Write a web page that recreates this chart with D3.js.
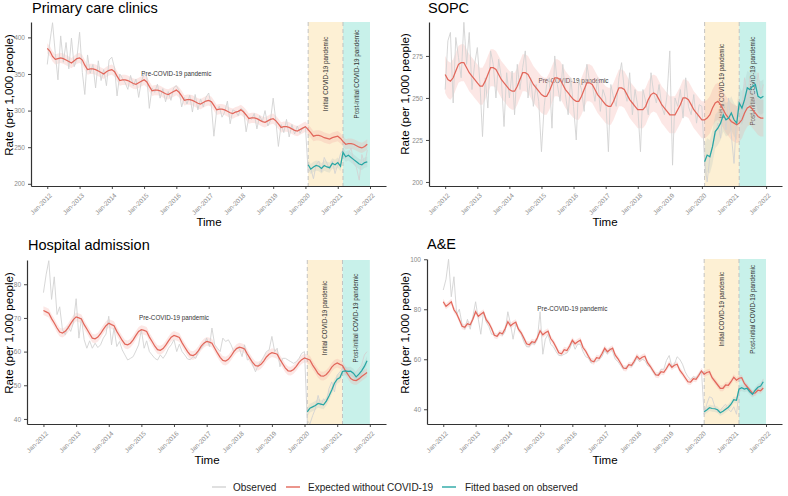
<!DOCTYPE html>
<html>
<head>
<meta charset="utf-8">
<script src="https://cdn.jsdelivr.net/npm/d3@7"></script>
<style>
  body { margin: 0; background: #fff; }
  svg text { font-family: "Liberation Sans", Arial, sans-serif; }
</style>
</head>
<body>
<svg id="chart"></svg>
<script>
var w = 788;
var h = 496;

// monthly series, Jan-2012 .. Dec-2021
var startMonth = new Date(2012, 0, 1);
var endMonth = new Date(2022, 0, 1);
var months = d3.timeMonth.range(startMonth, endMonth);
var fitStart = 97; // Feb-2020
var initialStart = new Date(2020, 1, 1);
var postStart = new Date(2021, 2, 1);
var periodEnd = new Date(2022, 0, 1);
var labelDate = new Date(2016, 0, 1);

var tickYears = [2012, 2013, 2014, 2015, 2016, 2017, 2018, 2019, 2020, 2021, 2022];
var periodLabels = ["Pre-COVID-19 pandemic", "Initial COVID-19 pandemic", "Post-initial COVID-19 pandemic"];
var legendLabels = ["Observed", "Expected without COVID-19", "Fitted based on observed"];
var panelTitles = ["Primary care clinics", "SOPC", "Hospital admission", "A&E"];

var primaryTicks = [200, 250, 300, 350, 400];
var sopcTicks = [200, 225, 250, 275];
var hospitalTicks = [40, 50, 60, 70, 80];
var aeTicks = [40, 60, 80, 100];

var primaryObserved = [
  363, 395, 420, 378, 342, 402, 366, 393, 357, 399, 360, 371,
  407, 352, 322, 376, 351, 363, 331, 368, 341, 356, 334, 369,
  373, 358, 320, 350, 344, 338, 329, 348, 334, 343, 318, 340,
  350, 346, 303, 331, 325, 336, 317, 330, 312, 326, 314, 331,
  334, 327, 305, 318, 309, 321, 298, 322, 301, 316, 305, 318,
  324, 306, 265, 300, 306, 291, 298, 313, 282, 301, 299, 293,
  303, 300, 271, 291, 288, 296, 275, 293, 285, 300, 279, 286,
  317, 285, 251, 281, 270, 288, 264, 281, 268, 279, 269, 276,
  278, 216, 221, 207, 226, 231, 216, 236, 228, 220, 231, 214,
  226, 241, 246, 235, 241, 249, 229, 222, 205, 240, 226, 246
];
var primaryExpected = [
  385, 381, 374, 370, 371, 372, 371, 369, 367, 365, 368, 371,
  372, 369, 362, 356, 357, 357, 356, 354, 352, 350, 353, 355,
  356, 353, 347, 341, 342, 342, 341, 339, 337, 336, 338, 340,
  342, 339, 333, 327, 328, 328, 327, 325, 323, 322, 324, 326,
  328, 325, 320, 314, 315, 315, 314, 312, 310, 309, 311, 313,
  314, 312, 307, 301, 302, 302, 301, 299, 297, 296, 298, 299,
  301, 298, 294, 289, 290, 290, 289, 287, 285, 284, 286, 288,
  289, 286, 282, 277, 278, 278, 277, 275, 273, 272, 274, 276,
  278, 274, 270, 265, 266, 266, 265, 263, 262, 261, 263, 264,
  265, 262, 258, 254, 255, 255, 254, 252, 250, 249, 251, 254
];
var primaryFitted = [
  226, 220, 223, 225, 224, 221, 225, 223, 222, 228, 226, 229, 224,
  243, 237, 239, 236, 233, 230, 227, 226, 229, 230
];

var sopcObserved = [
  255, 284, 289, 247, 286, 274, 262, 295, 270, 289, 255, 270,
  280, 258, 227, 262, 244, 278, 270, 250, 273, 262, 233, 265,
  250, 266, 240, 270, 255, 268, 278, 250, 262, 245, 258, 248,
  218, 245, 258, 262, 232, 275, 258, 248, 270, 252, 240, 262,
  245, 225, 260, 255, 242, 270, 260, 258, 248, 262, 242, 255,
  250, 218, 258, 250, 245, 262, 271, 255, 248, 265, 240, 255,
  245, 218, 255, 248, 240, 265, 253, 247, 258, 245, 240, 252,
  278, 210, 250, 245, 255, 238, 262, 245, 240, 252, 235, 246,
  245, 212, 200, 215, 221, 228, 235, 226, 245, 231, 250, 228,
  211, 240, 248, 245, 262, 250, 262, 255, 248, 265, 252, 258
];
var sopcExpected = [
  264, 261, 260, 262, 266, 270, 271, 271, 268, 265, 263, 261,
  259, 257, 257, 260, 264, 268, 268, 267, 264, 261, 259, 257,
  255, 254, 254, 257, 261, 265, 265, 264, 261, 258, 256, 254,
  252, 251, 251, 254, 258, 262, 262, 261, 258, 255, 253, 251,
  249, 248, 248, 251, 255, 259, 259, 258, 255, 252, 250, 248,
  246, 245, 245, 248, 252, 256, 256, 255, 252, 249, 247, 245,
  243, 243, 243, 245, 249, 252, 253, 252, 249, 246, 244, 242,
  240, 240, 240, 243, 246, 250, 250, 249, 246, 243, 241, 239,
  237, 237, 238, 240, 244, 247, 248, 246, 243, 240, 238, 236,
  235, 234, 235, 237, 241, 244, 245, 243, 241, 239, 238, 238
];
var sopcFitted = [
  212, 216, 215, 221, 230, 232, 235, 240, 237, 238, 241, 237, 235,
  247, 244, 249, 256, 255, 257, 258, 251, 250, 251
];

var hospitalObserved = [
  77.5, 83.0, 87.0, 75.5, 82.2, 71.0, 73.3, 66.5, 65.0, 67.5, 66.0, 68.5,
  75.7, 64.0, 70.0, 63.5, 61.0, 63.2, 61.0, 62.5, 61.2, 62.0, 64.0, 65.2,
  70.5, 62.0, 67.0, 61.5, 63.0, 60.5, 59.0, 57.5, 58.0, 58.5, 60.2, 62.0,
  66.5, 61.0, 63.2, 60.0, 59.0, 58.0, 57.5, 59.0, 58.0, 59.2, 61.0, 62.0,
  63.5, 60.0, 62.2, 60.0, 59.0, 57.8, 57.6, 58.5, 58.0, 60.0, 61.0, 62.0,
  64.0, 61.5, 67.0, 62.0, 61.0, 60.0, 64.0, 63.0, 63.5, 62.0, 60.0, 61.0,
  61.0, 58.5, 62.0, 57.5, 58.0, 56.0, 54.0, 56.0, 57.0, 58.5, 60.0, 60.5,
  64.5, 60.0, 61.0, 55.5, 58.0, 58.0, 57.5, 57.0, 56.5, 57.0, 58.0, 59.5,
  60.0, 39.5, 38.5, 41.0, 43.0, 47.0, 44.0, 46.0, 45.0, 49.0, 51.0, 48.0,
  53.0, 54.0, 55.0, 53.5, 55.0, 54.0, 53.0, 54.0, 55.0, 56.0, 59.0, 60.0
];
var hospitalExpected = [
  72.2, 71.8, 71.4, 69.8, 68.5, 67.0, 65.8, 65.5, 66.0, 67.0, 68.3, 69.5,
  70.3, 70.0, 69.7, 68.0, 66.7, 65.3, 64.0, 63.8, 64.3, 65.3, 66.6, 67.7,
  68.4, 68.0, 67.7, 66.0, 64.7, 63.3, 62.2, 62.0, 62.5, 63.5, 64.8, 66.0,
  66.5, 66.3, 66.0, 64.3, 63.0, 61.6, 60.6, 60.4, 60.9, 61.9, 63.2, 64.3,
  64.8, 64.5, 64.2, 62.6, 61.3, 60.0, 59.0, 58.8, 59.3, 60.3, 61.6, 62.5,
  63.0, 62.8, 62.5, 61.0, 59.6, 58.3, 57.4, 57.2, 57.7, 58.7, 60.0, 60.9,
  61.3, 61.1, 60.8, 59.3, 58.0, 56.7, 55.8, 55.7, 56.2, 57.2, 58.4, 59.2,
  59.7, 59.5, 59.2, 57.7, 56.4, 55.1, 54.3, 54.2, 54.7, 55.6, 56.8, 57.6,
  58.1, 57.8, 57.5, 56.0, 54.8, 53.5, 52.8, 52.7, 53.2, 54.1, 55.4, 56.2,
  56.6, 56.2, 55.9, 54.4, 53.2, 52.0, 51.5, 51.4, 51.9, 52.6, 53.2, 53.8
];
var hospitalFitted = [
  42.1, 43.2, 43.6, 44.0, 44.6, 44.4, 44.2, 45.3, 46.8, 48.6, 50.6, 51.8, 52.3,
  54.1, 54.3, 54.1, 54.2, 53.6, 52.5, 53.3, 54.3, 55.6, 57.3
];

var aeObserved = [
  87.7, 92.0, 100.0, 85.0, 93.0, 78.0, 80.0, 74.0, 72.0, 76.0, 72.0, 77.0,
  83.0, 76.0, 70.0, 79.0, 75.0, 73.0, 70.0, 70.0, 69.0, 71.0, 69.5, 71.0,
  79.0, 74.0, 68.0, 74.0, 72.0, 70.0, 67.0, 65.0, 65.0, 66.5, 66.0, 68.0,
  79.0, 62.0, 68.0, 70.0, 66.0, 65.0, 63.0, 61.5, 61.5, 62.0, 62.5, 64.0,
  67.0, 64.0, 66.0, 66.0, 63.0, 61.0, 60.5, 58.5, 59.5, 59.0, 60.0, 61.0,
  63.5, 62.0, 64.5, 63.0, 60.0, 59.0, 57.5, 56.0, 57.0, 58.0, 57.0, 58.5,
  60.5, 59.0, 60.0, 59.5, 57.5, 57.0, 55.0, 53.5, 54.0, 56.0, 56.0, 59.5,
  61.5, 57.0, 58.0, 61.0, 60.0, 58.0, 55.0, 53.0, 52.0, 53.0, 52.5, 54.0,
  55.5, 38.0, 42.0, 45.0, 44.5, 41.0, 39.0, 39.5, 41.0, 42.0, 40.0, 39.0,
  41.0, 38.0, 47.0, 48.0, 49.0, 50.0, 47.0, 45.0, 46.0, 49.0, 50.0, 52.0
];
var aeExpected = [
  83.0, 81.2, 82.0, 83.0, 79.8, 78.2, 75.8, 73.2, 72.8, 74.2, 73.8, 76.0,
  79.0, 77.2, 78.0, 78.8, 75.8, 74.4, 72.3, 69.6, 69.2, 70.6, 70.2, 72.2,
  75.0, 73.4, 74.2, 74.8, 72.0, 70.6, 68.5, 66.2, 65.8, 67.0, 66.7, 68.6,
  71.4, 69.8, 70.6, 71.2, 68.3, 66.8, 64.8, 62.6, 62.2, 63.8, 63.5, 65.3,
  67.6, 66.2, 67.0, 67.6, 64.7, 63.2, 61.2, 59.4, 59.0, 60.6, 60.4, 62.2,
  64.4, 63.0, 63.8, 64.4, 61.6, 60.2, 58.4, 56.5, 56.3, 57.8, 57.6, 59.2,
  61.2, 60.0, 60.8, 61.2, 58.6, 57.2, 55.5, 53.8, 53.6, 55.0, 54.8, 56.3,
  58.2, 56.8, 57.6, 58.0, 55.6, 54.2, 52.6, 51.0, 50.9, 52.2, 52.0, 53.5,
  55.3, 54.0, 54.7, 55.0, 52.6, 51.2, 49.8, 48.4, 48.4, 49.7, 49.6, 51.0,
  52.8, 51.6, 52.4, 52.6, 50.3, 49.0, 47.7, 46.4, 46.5, 47.6, 47.4, 48.5
];
var aeFitted = [
  39.0, 39.7, 40.6, 40.3, 40.2, 39.8, 38.6, 39.2, 40.0, 40.8, 42.0, 43.8, 43.6,
  48.0, 48.6, 48.1, 48.4, 47.0, 46.0, 47.6, 48.8, 49.3, 51.0
];

// half widths of the confidence bands, per panel
var expectedCi = [7, 11, 1.3, 1.2];
var fittedCi = [7, 10, 1.3, 1.3];
// y value at which the period labels sit
var periodLabelY = [350, 260, 70, 80];

var colObserved = "#d3d3d3";
var colExpected = "#e2675b";
var colFitted = "#27a6a4";

var svg = d3.select("#chart")
    .attr("width", w)
    .attr("height", h);

var panels = [
  {obs: primaryObserved, exp: primaryExpected, fit: primaryFitted, ticks: primaryTicks,
   yDomain: [197, 421], left: 31, right: 386, top: 22, bottom: 186,
   titleX: 32, titleY: 13, yTitleX: 9, yTitleY: 95, timeX: 209, timeY: 226},
  {obs: sopcObserved, exp: sopcExpected, fit: sopcFitted, ticks: sopcTicks,
   yDomain: [197.6, 295.2], left: 429, right: 782, top: 22, bottom: 186,
   titleX: 428, titleY: 13, yTitleX: 405, yTitleY: 94, timeX: 605, timeY: 226},
  {obs: hospitalObserved, exp: hospitalExpected, fit: hospitalFitted, ticks: hospitalTicks,
   yDomain: [38.5, 87.2], left: 27, right: 386, top: 260, bottom: 424,
   titleX: 28, titleY: 250, yTitleX: 9, yTitleY: 333, timeX: 207, timeY: 464},
  {obs: aeObserved, exp: aeExpected, fit: aeFitted, ticks: aeTicks,
   yDomain: [34.1, 100.1], left: 427, right: 782, top: 259, bottom: 424,
   titleX: 427, titleY: 249, yTitleX: 405, yTitleY: 333, timeX: 605, timeY: 464}
];

panels.forEach(function(p, k){
  drawPanel(p, k);
});
drawLegend();

function drawPanel(p, k){
  var g = svg.append("g");

  var x = d3.scaleTime()
      .domain([d3.timeMonth.offset(startMonth, -6), d3.timeMonth.offset(endMonth, 6)])
      .range([p.left, p.right]);
  var y = d3.scaleLinear()
      .domain(p.yDomain)
      .range([p.bottom, p.top]);

  // pandemic periods
  g.append("rect")
      .attr("x", x(initialStart))
      .attr("y", p.top)
      .attr("width", x(postStart) - x(initialStart))
      .attr("height", p.bottom - p.top)
      .attr("fill", "#fdf0d4");
  g.append("rect")
      .attr("x", x(postStart))
      .attr("y", p.top)
      .attr("width", x(periodEnd) - x(postStart))
      .attr("height", p.bottom - p.top)
      .attr("fill", "#c8f1ea");

  g.selectAll(".vline")
    .data([initialStart, postStart])
    .enter()
    .append("line")
      .attr("class", "vline")
      .attr("x1", function(d){ return x(d); })
      .attr("x2", function(d){ return x(d); })
      .attr("y1", p.top)
      .attr("y2", p.bottom)
      .attr("stroke", "#bdbdbd")
      .attr("stroke-width", 0.9)
      .attr("stroke-dasharray", "4,3");

  g.append("text")
      .attr("x", x(labelDate))
      .attr("y", y(periodLabelY[k]))
      .attr("dy", "0.35em")
      .attr("text-anchor", "middle")
      .attr("font-size", "6.3px")
      .attr("fill", "#333")
      .text(periodLabels[0]);

  var mids = [
    (x(initialStart) + x(postStart)) / 2,
    (x(postStart) + x(periodEnd)) / 2
  ];
  g.selectAll(".vlabel")
    .data(mids)
    .enter()
    .append("text")
      .attr("class", "vlabel")
      .attr("transform", function(d){
        return "translate(" + d + "," + y(periodLabelY[k]) + ") rotate(-90)";
      })
      .attr("dy", "0.35em")
      .attr("text-anchor", "middle")
      .attr("font-size", "6.3px")
      .attr("fill", "#333")
      .text(function(d, i){ return periodLabels[i + 1]; });

  // confidence bands
  var expBand = d3.area()
      .x(function(d, i){ return x(months[i]); })
      .y0(function(d){ return y(d - expectedCi[k]); })
      .y1(function(d){ return y(d + expectedCi[k]); });
  g.append("path")
      .datum(p.exp)
      .attr("d", expBand)
      .attr("fill", "#f5aaa2")
      .attr("opacity", 0.28);

  var fitBand = d3.area()
      .x(function(d, i){ return x(months[i + fitStart]); })
      .y0(function(d){ return y(d - fittedCi[k]); })
      .y1(function(d){ return y(d + fittedCi[k]); });
  g.append("path")
      .datum(p.fit)
      .attr("d", fitBand)
      .attr("fill", "#a5b9b9")
      .attr("opacity", 0.22);

  // observed
  var line = d3.line()
      .x(function(d, i){ return x(months[i]); })
      .y(function(d){ return y(d); });
  g.append("path")
      .datum(p.obs)
      .attr("d", line)
      .attr("fill", "none")
      .attr("stroke", colObserved)
      .attr("stroke-width", 0.9);

  // expected without covid
  g.append("path")
      .datum(p.exp)
      .attr("d", line)
      .attr("fill", "none")
      .attr("stroke", colExpected)
      .attr("stroke-width", 1.25);

  // fitted
  var fitLine = d3.line()
      .x(function(d, i){ return x(months[i + fitStart]); })
      .y(function(d){ return y(d); });
  g.append("path")
      .datum(p.fit)
      .attr("d", fitLine)
      .attr("fill", "none")
      .attr("stroke", colFitted)
      .attr("stroke-width", 1.25);

  // axes
  var xAxis = d3.axisBottom(x)
      .tickValues(tickYears.map(function(yr){ return new Date(yr, 0, 1); }))
      .tickFormat(d3.timeFormat("%b-%Y"))
      .tickSizeInner(3)
      .tickSizeOuter(0);
  var gx = g.append("g")
      .attr("transform", "translate(0," + p.bottom + ")")
      .call(xAxis);
  gx.selectAll("text")
      .attr("x", 0)
      .attr("y", 0)
      .attr("dy", 0)
      .attr("transform", "translate(4.5,10) rotate(-45)")
      .attr("text-anchor", "end");

  var yAxis = d3.axisLeft(y)
      .tickValues(p.ticks)
      .tickSizeInner(3)
      .tickSizeOuter(0);
  var gy = g.append("g")
      .attr("transform", "translate(" + p.left + ",0)")
      .call(yAxis);

  [gx, gy].forEach(function(a){
    a.select(".domain").attr("stroke", "#333").attr("stroke-width", 1.2);
    a.selectAll(".tick line").attr("stroke", "#333").attr("stroke-width", 0.9);
    a.selectAll(".tick text")
        .attr("fill", "#8a8a8a")
        .attr("font-size", "6.5px")
        .attr("font-family", "'Liberation Sans', Arial, sans-serif");
  });

  // titles
  g.append("text")
      .attr("x", p.titleX)
      .attr("y", p.titleY)
      .attr("font-size", "14.5px")
      .attr("fill", "#000")
      .text(panelTitles[k]);

  g.append("text")
      .attr("transform", "translate(" + p.yTitleX + "," + p.yTitleY + ") rotate(-90)")
      .attr("dy", "0.35em")
      .attr("text-anchor", "middle")
      .attr("font-size", "11.5px")
      .attr("fill", "#000")
      .text("Rate (per 1,000 people)");

  g.append("text")
      .attr("x", p.timeX)
      .attr("y", p.timeY)
      .attr("text-anchor", "middle")
      .attr("font-size", "11.5px")
      .attr("fill", "#000")
      .text("Time");
}

function drawLegend(){
  var keyX = [212, 286, 442];
  var textX = [233, 308, 465];
  var cols = [colObserved, colExpected, colFitted];
  var lg = svg.append("g");

  lg.selectAll("line")
    .data(legendLabels)
    .enter()
    .append("line")
      .attr("x1", function(d, i){ return keyX[i]; })
      .attr("x2", function(d, i){ return keyX[i] + 14; })
      .attr("y1", 487)
      .attr("y2", 487)
      .attr("stroke", function(d, i){ return cols[i]; })
      .attr("stroke-width", 1.4);

  lg.selectAll("text")
    .data(legendLabels)
    .enter()
    .append("text")
      .attr("x", function(d, i){ return textX[i]; })
      .attr("y", 490.5)
      .attr("font-size", "10px")
      .attr("font-family", "'DejaVu Sans', sans-serif")
      .attr("fill", "#222")
      .text(function(d){ return d; });
}
</script>
</body>
</html>
